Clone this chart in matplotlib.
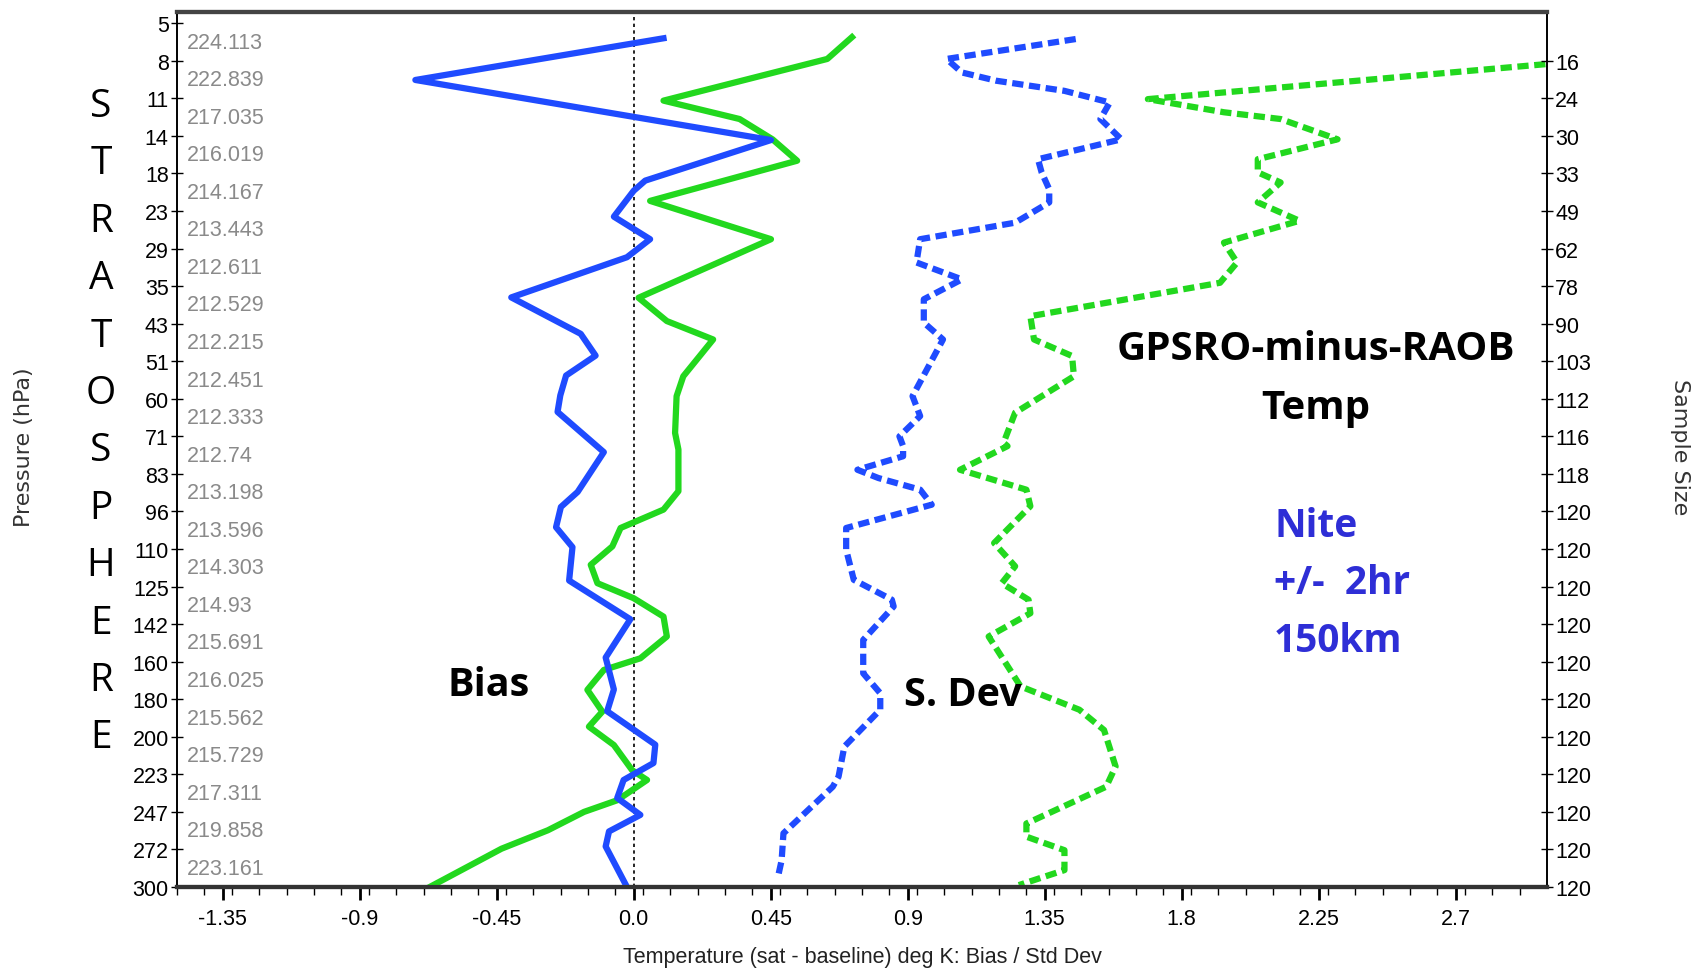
import matplotlib.pyplot as plt
import numpy as np

# Pressure levels (left axis) and sample sizes (right axis)
pressure = [5, 8, 11, 14, 18, 23, 29, 35, 43, 51, 60, 71, 83, 96, 110, 125, 142, 160, 180, 200, 223, 247, 272, 300]
sample_size = [16, 24, 30, 33, 49, 62, 78, 90, 103, 112, 116, 118, 120, 120, 120, 120, 120, 120, 120, 120, 120, 120, 120]
layer_temp = ['224.113', '222.839', '217.035', '216.019', '214.167', '213.443', '212.611', '212.529',
              '212.215', '212.451', '212.333', '212.74', '213.198', '213.596', '214.303', '214.93',
              '215.691', '216.025', '215.562', '215.729', '217.311', '219.858', '223.161']

# Bias (solid) - level position is the index along the pressure axis
bias_blue_lev = [0.40, 1.51, 3.11, 4.19, 4.46, 5.15, 5.75, 6.23, 7.30, 8.27, 8.85, 9.38, 9.91, 10.35, 11.42,
                 12.48, 12.88, 13.42, 13.95, 14.84, 15.87, 16.89, 17.74, 18.32, 19.21, 19.70, 20.15, 20.63,
                 21.08, 21.52, 21.92, 23.0]
bias_blue = [0.098, -0.717, 0.451, 0.038, 0.0, -0.065, 0.054, -0.022, -0.402, -0.174, -0.125, -0.222, -0.241,
             -0.250, -0.098, -0.184, -0.239, -0.255, -0.201, -0.212, -0.011, -0.092, -0.065, -0.087, 0.071,
             0.065, -0.033, -0.054, 0.022, -0.081, -0.092, -0.022]

bias_green_lev = [0.37, 0.95, 2.06, 2.55, 3.09, 3.66, 4.73, 5.75, 7.31, 7.93, 8.42, 9.40, 9.93, 10.91, 11.35,
                  12.46, 12.95, 13.44, 13.93, 14.42, 14.91, 15.31, 15.80, 16.33, 16.91, 17.22, 17.75, 18.33,
                  18.73, 19.22, 19.89, 20.15, 20.69, 21.0, 21.49, 21.98, 23.0]
bias_green = [0.717, 0.636, 0.098, 0.348, 0.456, 0.537, 0.054, 0.451, 0.016, 0.109, 0.261, 0.163, 0.141,
              0.136, 0.147, 0.147, 0.098, -0.043, -0.070, -0.141, -0.119, 0.0, 0.098, 0.109, 0.022, -0.098,
              -0.152, -0.103, -0.147, -0.065, -0.005, 0.044, -0.054, -0.163, -0.282, -0.434, -0.67]

# Standard deviation (dashed)
sd_blue_lev = [0.42, 0.95, 1.31, 1.53, 1.80, 2.11, 2.55, 3.09, 3.62, 3.97, 4.42, 4.77, 5.31, 5.75, 6.37, 6.82,
               7.35, 7.97, 8.42, 9.93, 10.46, 11.0, 11.26, 11.53, 11.89, 12.11, 12.42, 12.82, 13.44, 14.02,
               14.82, 15.35, 15.53, 16.42, 17.31, 17.84, 18.28, 19.26, 20.06, 20.33, 21.57, 22.29, 22.73]
sd_blue = [1.452, 1.028, 1.078, 1.191, 1.415, 1.564, 1.533, 1.602, 1.328, 1.340, 1.365, 1.365, 1.253, 0.941,
           0.929, 1.078, 0.953, 0.953, 1.016, 0.916, 0.941, 0.873, 0.885, 0.885, 0.735, 0.804, 0.941, 0.979,
           0.698, 0.698, 0.723, 0.848, 0.854, 0.754, 0.754, 0.810, 0.810, 0.692, 0.673, 0.654, 0.492, 0.486,
           0.474]

sd_green_lev = [1.05, 2.02, 2.37, 2.55, 3.09, 3.62, 3.97, 4.24, 4.77, 5.26, 5.84, 6.37, 6.91, 7.80, 8.42, 8.86,
                9.40, 10.37, 11.17, 11.26, 11.89, 12.42, 12.86, 13.84, 14.46, 14.91, 15.35, 15.71, 16.33,
                17.66, 18.28, 18.82, 19.79, 20.33, 21.31, 21.66, 22.02, 22.55, 22.95]
sd_green = [3.05, 1.689, 1.939, 2.125, 2.312, 2.05, 2.05, 2.125, 2.05, 2.187, 1.939, 1.982, 1.926, 1.303,
            1.315, 1.44, 1.446, 1.253, 1.215, 1.228, 1.072, 1.290, 1.303, 1.184, 1.253, 1.209, 1.297, 1.303,
            1.166, 1.271, 1.464, 1.545, 1.583, 1.552, 1.290, 1.290, 1.415, 1.415, 1.265]

blue = '#1f4bff'
green = '#22d81e'
narrow = 'Liberation Sans'

fig = plt.figure(figsize=(17.03, 9.70), dpi=100)
ax = fig.add_axes([177 / 1703, 82 / 970, 1370 / 1703, 875 / 970])

ax.axvline(0, color='black', linestyle=(0, (2, 2)), linewidth=1.2, zorder=1)
ax.plot(bias_green, bias_green_lev, color=green, linewidth=4.5, zorder=3)
ax.plot(bias_blue, bias_blue_lev, color=blue, linewidth=4.5, zorder=4)
ax.plot(sd_blue, sd_blue_lev, color=blue, linewidth=4.5, dashes=(1.8, 0.9), zorder=3)
ax.plot(sd_green, sd_green_lev, color=green, linewidth=4.5, dashes=(1.8, 0.9), zorder=3)

ax.set_xlim(-1.5, 3.0)
ax.set_ylim(23, -0.3)

xmajor = [-1.35, -0.9, -0.45, 0.0, 0.45, 0.9, 1.35, 1.8, 2.25, 2.7]
ax.set_xticks(xmajor)
ax.set_xticklabels([str(v) for v in xmajor], family=narrow, fontsize=15.5)
ax.set_xticks(np.arange(-1.5, 3.0, 0.09), minor=True)
ax.tick_params(axis='x', which='major', direction='out', length=9, width=2, pad=6)
ax.tick_params(axis='x', which='minor', direction='out', length=6, width=1)

ax.set_yticks(range(len(pressure)))
ax.set_yticklabels([str(p) for p in pressure], family=narrow, fontsize=15.5)
ax.tick_params(axis='y', direction='inout', length=8, width=1, pad=2)

for i, t in enumerate(layer_temp):
    ax.text(10 / 1370, i + 0.5, t, transform=ax.get_yaxis_transform(), color='#8a8a8a',
            family=narrow, fontsize=15.5, va='center', ha='left')

ax2 = ax.twinx()
ax2.set_ylim(23, -0.3)
ax2.set_yticks(range(1, len(pressure)))
ax2.set_yticklabels([str(s) for s in sample_size], family=narrow, fontsize=15.5)
ax2.tick_params(axis='y', direction='inout', length=8, width=1, pad=2)

for a in (ax, ax2):
    a.spines['top'].set_linewidth(3)
    a.spines['top'].set_color('#444444')
    a.spines['bottom'].set_linewidth(3)
    a.spines['bottom'].set_color('#333333')
    a.spines['left'].set_linewidth(1.2)
    a.spines['right'].set_linewidth(1.2)

# Axis titles
fig.text(862 / 1703, 1 - 958 / 970, 'Temperature (sat - baseline) deg K: Bias / Std Dev',
         family=narrow, fontsize=15.5, ha='center', va='center', color='#222222')
fig.text(24 / 1703, 1 - 412 / 970 * 1.086, 'Pressure (hPa)', rotation=90, fontsize=16,
         ha='center', va='center', color='#333333')
fig.text(1680 / 1703, 1 - 412 / 970 * 1.086, 'Sample Size', rotation=270, fontsize=16,
         ha='center', va='center', color='#333333')

# STRATOSPHERE written vertically
for k, ch in enumerate('STRATOSPHERE'):
    fig.text(101 / 1703, 1 - (107 + k * 57.4) / 970, ch, family='Open Sans', fontsize=28,
             ha='center', va='center')

# annotations
fig.text(489 / 1703, 1 - 686 / 970, 'Bias', family='Open Sans', weight='bold', fontsize=28.5,
         ha='center', va='center')
fig.text(963 / 1703, 1 - 696 / 970, 'S. Dev', family='Open Sans', weight='bold', fontsize=28.5,
         ha='center', va='center')
fig.text(1316 / 1703, 1 - 350 / 970, 'GPSRO-minus-RAOB', family='Open Sans', weight='bold', fontsize=29,
         ha='center', va='center')
fig.text(1316 / 1703, 1 - 409 / 970, 'Temp', family='Open Sans', weight='bold', fontsize=29,
         ha='center', va='center')
for txt, yy in zip(['Nite', '+/-  2hr', '150km'], [527, 584, 642]):
    fig.text(1274 / 1703, 1 - yy / 970, txt, family='Open Sans', weight='bold', fontsize=28,
             ha='left', va='center', color='#2e2ed6')

plt.savefig('out.png', dpi=100)
